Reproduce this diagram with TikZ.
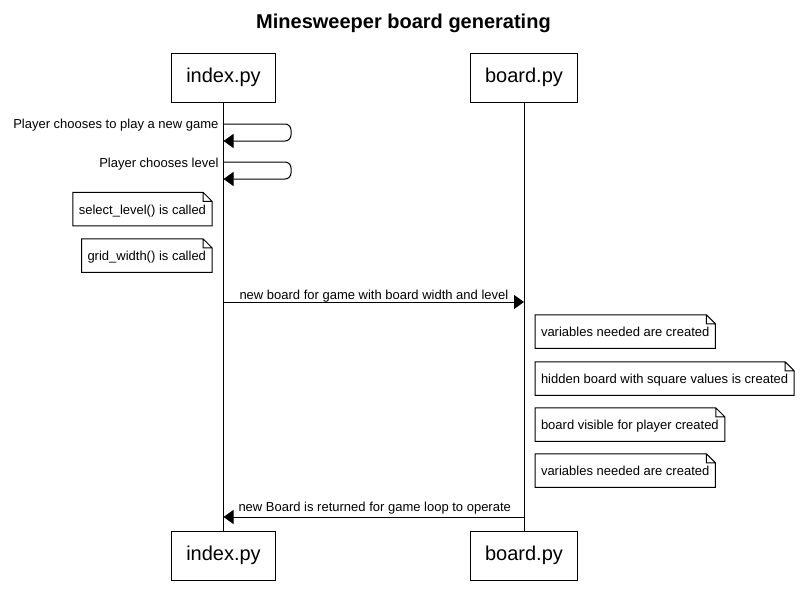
\documentclass[tikz,border=0pt]{standalone}
\usepackage{fontspec}
\setmainfont{Liberation Sans}
\usetikzlibrary{arrows.meta}

\tikzset{
	party/.style={draw, inner xsep=14.3pt, minimum height=49pt, font=\fontsize{20}{24}\selectfont},
	note/.style={inner xsep=5.5pt, minimum height=32.5pt, text height=12pt, text depth=1.3pt, font=\fontsize{13}{15}\selectfont},
	lbl/.style={inner sep=0pt, font=\fontsize{13}{15}\selectfont},
	msg/.style={-{Triangle[length=10pt,width=14pt]}}
}

\begin{document}
\begin{tikzpicture}[x=1pt, y=-1pt, line width=1pt]
			\path[fill=white, use as bounding box] (0,0) rectangle (804,614);
			
			\node[font=\fontsize{20}{24}\selectfont\bfseries] (title) at (403.5, 23) {Minesweeper board generating};
			
			% participants, top and bottom
			\node[party] (index)  at (223.5, 77.5)  {index.py};
			\node[party] (board)  at (524, 77.5)    {board.py};
			\node[party] (indexb) at (223.5, 555.5) {index.py};
			\node[party] (boardb) at (524, 555.5)   {board.py};
			
			\draw (index) -- (indexb);
			\draw (board) -- (boardb);
			
			% self messages
			\node[lbl, anchor=base east] (playlbl)  at (219, 128.5) {Player chooses to play a new game};
			\node[lbl, anchor=base east] (levellbl) at (219, 167)   {Player chooses level};
			\draw[msg, rounded corners=6pt] (index |- 0,124) -- (291,124) -- (291,141) -- (index |- 0,141);
			\draw[msg, rounded corners=6pt] (index |- 0,162) -- (291,162) -- (291,179) -- (index |- 0,179);
			
			% notes
			\node[note, anchor=east] (selnote)  at (212, 209)   {select\_level() is called};
			\node[note, anchor=east] (gridnote) at (212, 255.5) {grid\_width() is called};
			\node[note, anchor=west] (varnote)  at (535, 331.5) {variables needed are created};
			\node[note, anchor=west] (hidnote)  at (535, 378.5) {hidden board with square values is created};
			\node[note, anchor=west] (visnote)  at (535, 424.5) {board visible for player created};
			\node[note, anchor=west] (varbnote) at (535, 470.5) {variables needed are created};
			
			\foreach \n in {selnote, gridnote, varnote, hidnote, visnote, varbnote}
				\draw (\n.south west) -- (\n.north west) -- ([xshift=-9pt]\n.north east) -- ([yshift=-9pt]\n.north east) -- (\n.south east) -- cycle
					([xshift=-9pt]\n.north east) |- ([yshift=-9pt]\n.north east);
			
			% calls between the files
			\node[lbl, anchor=base west] (newlbl) at (239, 299.5) {new board for game with board width and level};
			\draw[msg] (index |- 0,302) -- (board |- 0,302);
			
			\node[lbl, anchor=base west] (retlbl) at (238, 511) {new Board is returned for game loop to operate};
			\draw[msg] (board |- 0,517) -- (index |- 0,517);
		\end{tikzpicture}
\end{document}
